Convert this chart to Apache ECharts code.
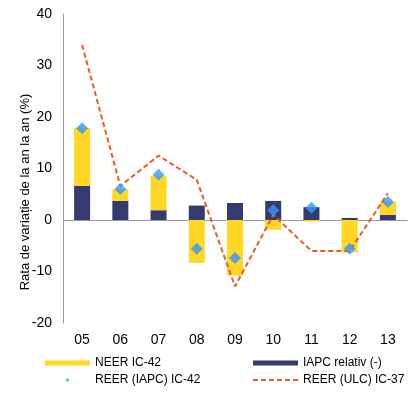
<!DOCTYPE html>
<html>
<head>
<meta charset="utf-8">
<script src="https://cdn.jsdelivr.net/npm/echarts@6/dist/echarts.min.js"></script>
<style>html,body{margin:0;padding:0;background:#fff}#c{width:415px;height:394px}</style>
</head>
<body>
<div id="c"></div>
<script>
var categories = ['05','06','07','08','09','10','11','12','13'];
var neer = [11.3, 2.3, 6.7, -8.3, -10.8, -1.9, -0.3, -6.3, 2.6];
var iapcRel = [6.6, 3.7, 1.9, 2.8, 3.3, 3.7, 2.5, 0.4, 1.0];
var reerIapc = [17.8, 6.0, 8.8, -5.6, -7.4, 1.9, 2.4, -5.6, 3.5];
var reerUlc = [34.0, 6.6, 12.5, 7.8, -12.9, 1.0, -6.0, -6.0, 5.2];
var yTicks = {min: -20, max: 40, interval: 10};

var font = 'Liberation Sans, Arial, sans-serif';
var diamondIcon = 'path://M0,2.5L0,2.5M20.5,2.5L22.5,0.5L24.5,2.5L22.5,4.5ZM45,2.5L45,2.5M0,0L0,0M45,5L45,5';
var legendText = {fontSize: 12, color: '#000', fontFamily: font};
var chart = echarts.init(document.getElementById('c'));
chart.setOption({
  animation: false,
  textStyle: {fontFamily: font},
  grid: {left: 63, right: 8, top: 14, bottom: 71},
  xAxis: {
    type: 'category',
    data: categories,
    axisLine: {onZero: true, lineStyle: {color: '#999', width: 1}},
    axisTick: {show: false},
    axisLabel: {color: '#000', fontSize: 14, fontFamily: font, margin: 10}
  },
  yAxis: {
    type: 'value',
    min: yTicks.min, max: yTicks.max, interval: yTicks.interval,
    axisLine: {show: true, lineStyle: {color: '#999', width: 1}},
    axisTick: {show: false},
    splitLine: {show: false},
    axisLabel: {color: '#000', fontSize: 14, fontFamily: font, margin: 11}
  },
  legend: [{
    orient: 'vertical', left: 45, top: 357, padding: 0,
    itemWidth: 45, itemHeight: 5, itemGap: 5, symbolKeepAspect: false,
    textStyle: legendText,
    data: [{name: 'NEER IC-42', icon: 'rect'}, {name: 'REER (IAPC) IC-42', icon: diamondIcon}]
  }, {
    orient: 'vertical', left: 252, top: 357, padding: 0,
    itemWidth: 45, itemHeight: 5, itemGap: 5,
    textStyle: legendText,
    data: [{name: 'IAPC relativ (-)', icon: 'rect'}, {name: 'REER (ULC) IC-37', itemStyle: {opacity: 0}}]
  }],
  graphic: [{
    type: 'text',
    x: 25, y: 192,
    rotation: Math.PI / 2,
    style: {
      text: 'Rata de variație de la an la an (%)',
      fontSize: 13, fontFamily: font, fill: '#000',
      align: 'center', verticalAlign: 'middle'
    }
  }],
  series: [{
    name: 'IAPC relativ (-)',
    type: 'bar', stack: 'a', barWidth: 16,
    itemStyle: {color: '#353B6E'},
    data: iapcRel
  }, {
    name: 'NEER IC-42',
    type: 'bar', stack: 'a', barWidth: 16,
    itemStyle: {color: '#FFD724'},
    data: neer
  }, {
    name: 'REER (ULC) IC-37',
    type: 'line', symbol: 'none',
    lineStyle: {color: '#EE5A24', width: 2, type: [5, 3]},
    itemStyle: {color: '#EE5A24'},
    data: reerUlc, z: 3
  }, {
    name: 'REER (IAPC) IC-42',
    type: 'scatter', symbol: 'diamond', symbolSize: 12,
    itemStyle: {color: '#3399FF'},
    data: reerIapc, z: 4
  }]
});
</script>
</body>
</html>
